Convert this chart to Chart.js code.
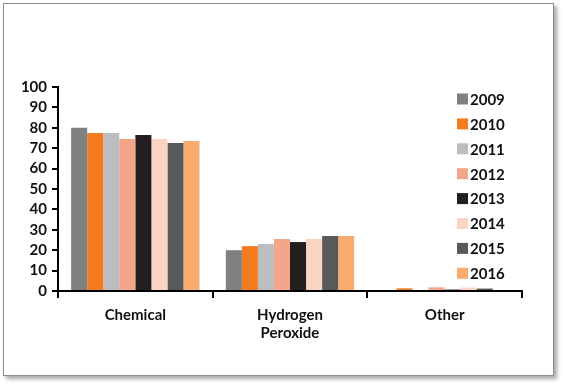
<!DOCTYPE html>
<html>
<head>
<meta charset="utf-8">
<script src="https://cdn.jsdelivr.net/npm/chart.js@4"></script>
<style>
  html, body { margin: 0; padding: 0; background: #fff; }
  #wrap { position: relative; width: 566px; height: 385px; overflow: hidden; }
  #frame {
    position: absolute; left: 3px; top: 3px; width: 549px; height: 371px;
    border: 1px solid #8c8c8c; box-shadow: 3px 3px 4px rgba(0,0,0,.35);
    background: #fff;
  }
  #box { position: absolute; left: 0; top: 0; width: 566px; height: 385px; }
</style>
</head>
<body>
<div id="wrap">
  <div id="frame"></div>
  <div id="box"><canvas id="chart"></canvas></div>
</div>
<script>
const categories = ['Chemical', ['Hydrogen', 'Peroxide'], 'Other'];
const years      = ['2009', '2010', '2011', '2012', '2013', '2014', '2015', '2016'];

const v2009 = [80,   20,   0];
const v2010 = [77.5, 22,   1.3];
const v2011 = [77.5, 23,   0];
const v2012 = [74.5, 25.5, 1.8];
const v2013 = [76.5, 24,   0.7];
const v2014 = [74.5, 25.5, 1.7];
const v2015 = [72.5, 27,   1.2];
const v2016 = [73.5, 27,   0];

const yTicks = [0, 10, 20, 30, 40, 50, 60, 70, 80, 90, 100];

const colors = ['#808083', '#f47b20', '#bcbdc0', '#f4a68b', '#231f20', '#fcd4c3', '#58595b', '#f9ac6d'];
const series = [v2009, v2010, v2011, v2012, v2013, v2014, v2015, v2016];

const FONT = 'Lato, "Open Sans", sans-serif';

// legend sits inside the plot area, top right
const boxLegend = {
    id: 'boxLegend',
    afterDraw(chart) {
        const ctx = chart.ctx;
        const a   = chart.chartArea;
        const x0  = a.right - 65;
        const y0  = a.top + 12;
        ctx.save();
        ctx.font = `bold 15px ${FONT}`;
        ctx.textBaseline = 'middle';
        chart.data.datasets.forEach((ds, i) => {
            const y = y0 + i * 24.9;
            ctx.fillStyle = ds.backgroundColor;
            ctx.fillRect(x0, y - 5.5, 11, 11);
            ctx.fillStyle = '#111';
            ctx.fillText(ds.label, x0 + 13, y + 1);
        });
        ctx.restore();
    }
};

new Chart(document.getElementById('chart'), {
    type: 'bar',
    data: {
        labels: categories,
        datasets: series.map((d, i) => ({
            label: years[i],
            data: d,
            backgroundColor: colors[i],
            borderWidth: 0,
            barPercentage: 1,
            categoryPercentage: 0.83,
        })),
    },
    options: {
        responsive: true,
        maintainAspectRatio: false,
        animation: false,
        layout: { padding: { left: 10, right: 44, top: 87, bottom: 30 } },
        plugins: {
            legend: { display: false },
            tooltip: { enabled: false },
        },
        scales: {
            x: {
                grid: { drawOnChartArea: false, offset: true, color: '#000', lineWidth: 2, tickLength: 7 },
                border: { color: '#000', width: 2 },
                ticks: { color: '#111', padding: 8, font: { family: FONT, weight: 'bold', size: 15 } },
                afterFit: s => { s.height = 64; },
            },
            y: {
                min: 0, max: 100,
                afterBuildTicks: s => { s.ticks = yTicks.map(v => ({ value: v })); },
                grid: { drawOnChartArea: false, color: '#000', lineWidth: 2, tickLength: 6 },
                border: { color: '#000', width: 2 },
                ticks: { color: '#111', padding: 5, autoSkip: false, font: { family: FONT, weight: 'bold', size: 15 } },
                afterFit: s => { s.width = 48; },
            },
        },
    },
    plugins: [boxLegend],
});
</script>
</body>
</html>
